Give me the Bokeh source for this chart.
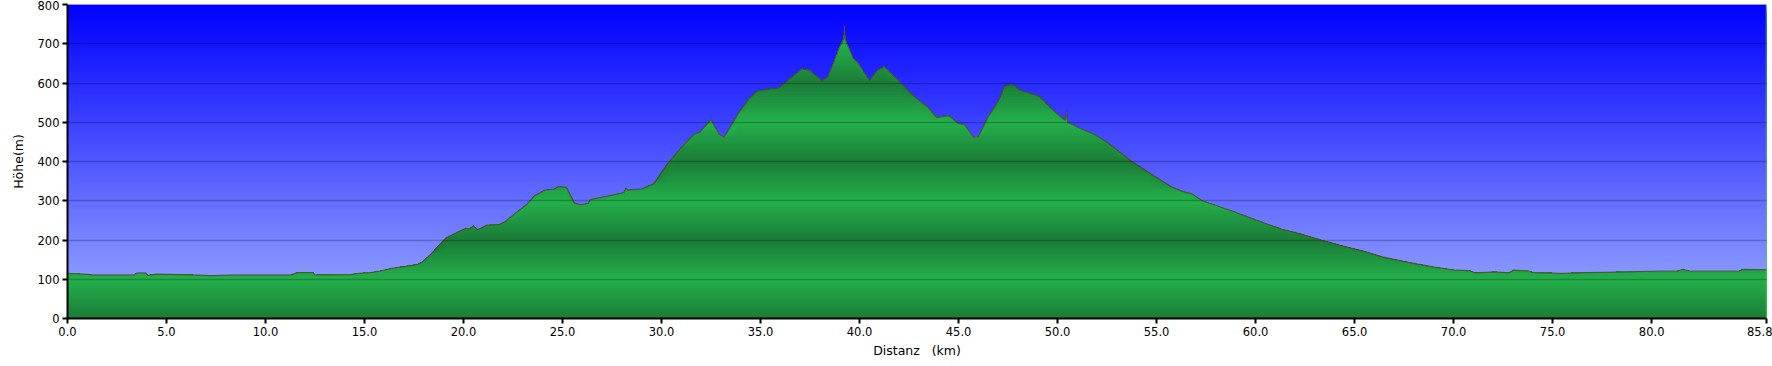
import numpy as np
from bokeh.plotting import figure
from bokeh.models import FixedTicker, Span
from bokeh.embed import file_html
from bokeh.resources import INLINE

# ---- data ----
distance_km = [0, 0.9, 1.25, 3.35, 3.5, 3.95, 4.05, 4.5, 6.4, 7.2, 8.4, 11.3, 11.6, 12.4, 12.5,
               14.3, 14.7, 15.3, 15.8, 16.3, 16.8, 17.7, 17.9, 18.35, 19.1, 20.1, 20.3, 20.5, 20.7,
               21.2, 21.8, 22.1, 23.2, 23.6, 24.1, 24.6, 24.8, 25.2, 25.6, 25.9, 26.3, 26.4, 27.6,
               28.1, 28.2, 28.3, 28.5, 29.0, 29.6, 30.3, 31.0, 31.66, 31.92, 32.5, 32.9, 33.16, 33.9,
               34.4, 34.8, 35.45, 35.9, 36.2, 36.55, 37.1, 37.5, 38.1, 38.4, 38.7, 38.98, 39.2, 39.24,
               39.28, 39.4, 39.67, 39.9, 40.5, 40.9, 41.25, 42.1, 42.8, 43.46, 43.9, 44.5, 45.0, 45.3,
               45.74, 46.0, 46.5, 46.8, 47.07, 47.3, 47.6, 47.8, 48.07, 48.7, 49.0, 49.3, 49.7, 50.3,
               50.4, 50.45, 50.5, 51.2, 51.9, 52.6, 53.7, 54.6, 55.8, 56.3, 56.8, 57.3, 58.8, 59.6,
               60.5, 61.3, 62.3, 63.3, 64.7, 65.5, 66.4, 67.7, 68.9, 70.1, 70.8, 71.1, 72.1, 72.8,
               73.0, 73.8, 74.0, 75.5, 76.7, 78.8, 80.5, 81.3, 81.6, 81.9, 84.4, 84.6, 85.8]
elevation_m = [115, 113, 111, 111, 116, 116, 110, 113, 111, 109, 111, 111, 117, 117, 111,
               112, 115, 117, 121, 127, 131, 138, 143, 164, 205, 230, 228, 236, 226,
               238, 239, 247, 291, 313, 327, 330, 336, 334, 294, 290, 293, 303, 315,
               321, 332, 327, 328, 330, 343, 394, 436, 470, 474, 506, 470, 462, 525,
               559, 579, 585, 587, 599, 614, 636, 632, 605, 616, 653, 691, 712, 747,
               710, 696, 664, 653, 606, 632, 642, 599, 564, 538, 512, 517, 497, 494,
               462, 463, 515, 537, 560, 591, 596, 594, 583, 572, 568, 555, 534, 508,
               505, 530, 500, 483, 468, 445, 402, 372, 334, 324, 317, 300, 274, 259,
               242, 228, 215, 200, 181, 171, 157, 143, 132, 123, 122, 116, 119, 116,
               123, 121, 117, 115, 117, 119, 121, 121, 125, 121, 121, 125, 124]
x_ticks = [0, 5, 10, 15, 20, 25, 30, 35, 40, 45, 50, 55, 60, 65, 70, 75, 80, 85.8]
x_tick_labels = ["0.0", "5.0", "10.0", "15.0", "20.0", "25.0", "30.0", "35.0", "40.0", "45.0",
                 "50.0", "55.0", "60.0", "65.0", "70.0", "75.0", "80.0", "85.8"]
y_ticks = [0, 100, 200, 300, 400, 500, 600, 700, 800]

X_MAX = 85.8
Y_MAX = 800

x = np.array(distance_km, dtype=float)
y = np.array(elevation_m, dtype=float)

p = figure(width=1772, height=366, output_backend="svg", toolbar_location=None,
           x_range=(0, X_MAX), y_range=(0, Y_MAX),
           min_border_left=67, min_border_right=6, min_border_top=4, min_border_bottom=48)
p.outline_line_color = None
p.background_fill_color = "#8ea0ff"
p.border_fill_color = "white"

# ---- sky gradient (blue at top, light at bottom) ----
top_c = np.array([0, 0, 255])
bot_c = np.array([160, 176, 255])
n_sky = 160
his = np.linspace(Y_MAX, 0, n_sky, endpoint=False)
cols = []
for h in his:
    t = h / Y_MAX
    c = bot_c + (top_c - bot_c) * t
    cols.append("#%02x%02x%02x" % tuple(int(round(v)) for v in c))
p.quad(left=[0] * n_sky, right=[X_MAX] * n_sky, bottom=[0] * n_sky, top=list(his),
       fill_color=cols, line_color=None)

# ---- terrain fill: reflected gradient, bright at odd hundreds, dark at even ----
bright = np.array([36, 176, 76])
dark = np.array([27, 124, 55])
step = 5
for hi in np.arange(800, 0, -step):
    mid = hi - step / 2.0
    ph = (mid % 200) / 100.0          # 0..2
    frac = 1.0 - abs(ph - 1.0)        # 1 at odd hundreds, 0 at even
    c = dark + (bright - dark) * frac
    col = "#%02x%02x%02x" % tuple(int(round(v)) for v in c)
    p.varea(x=x, y1=np.minimum(y, hi), y2=np.zeros_like(y), fill_color=col)

p.line(x, y, line_color="#5a3426", line_alpha=0.65, line_width=1.2)

p.add_layout(Span(location=X_MAX, dimension="height", line_color="#44d044", line_width=1.5))

# ---- axes & grid ----
p.xaxis.ticker = FixedTicker(ticks=x_ticks)
p.xaxis.major_label_overrides = {t: l for t, l in zip(x_ticks, x_tick_labels)}
p.yaxis.ticker = FixedTicker(ticks=y_ticks)
p.xgrid.grid_line_color = None
p.ygrid.grid_line_color = "black"
p.ygrid.grid_line_alpha = 0.22
p.ygrid.grid_line_width = 1.5
p.ygrid.level = "overlay"

for ax in (p.xaxis, p.yaxis):
    ax.axis_line_color = "black"
    ax.axis_line_width = 2
    ax.major_tick_line_color = "black"
    ax.major_tick_line_width = 2
    ax.major_tick_in = 0
    ax.major_tick_out = 5
    ax.minor_tick_line_color = None
    ax.major_label_text_font = "DejaVu Sans"
    ax.major_label_text_font_size = "11.5px"
    ax.major_label_text_color = "black"
    ax.axis_label_text_font = "DejaVu Sans"
    ax.axis_label_text_font_size = "12.5px"
    ax.axis_label_text_font_style = "normal"
    ax.axis_label_text_color = "black"

p.xaxis.axis_label = "Distanz\u00a0\u00a0\u00a0(km)"
p.yaxis.axis_label = "Höhe(m)"
p.xaxis.major_label_standoff = 3
p.xaxis.axis_label_standoff = 4
p.yaxis.major_label_standoff = 3
p.yaxis.axis_label_standoff = 9

open("out.html", "w").write(file_html(p, INLINE))
